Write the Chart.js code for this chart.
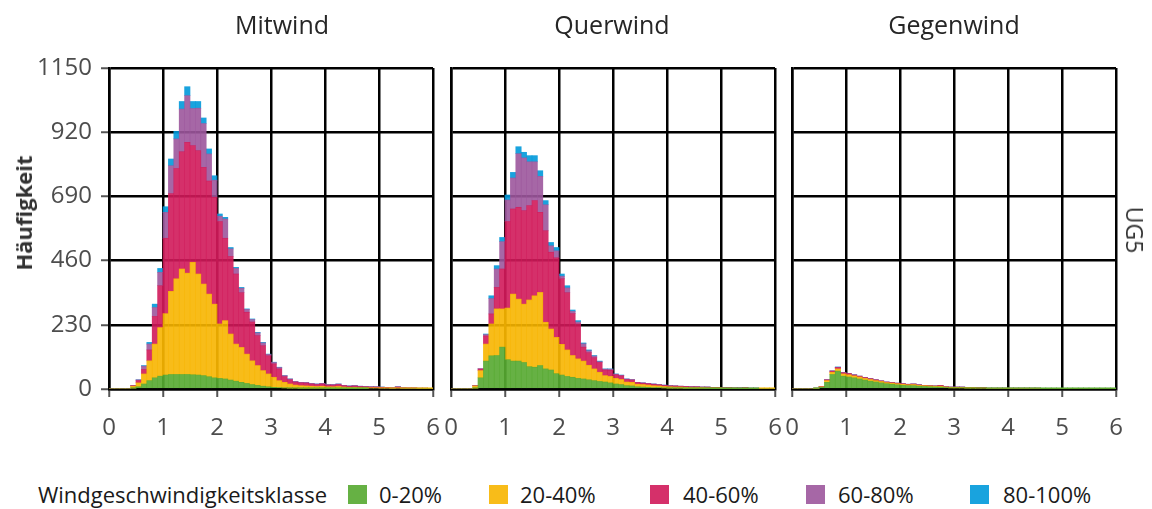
<!DOCTYPE html>
<html>
<head>
<meta charset="utf-8">
<script src="https://cdn.jsdelivr.net/npm/chart.js@4.4.1/dist/chart.umd.min.js"></script>
<style>
  body { margin: 0; background: #fff; }
  #wrap { position: relative; width: 1152px; height: 509px; overflow: hidden; background: #fff;
          font-family: "Open Sans", sans-serif; color: #333; }
  #wrap canvas { position: absolute; }
  .strip { position: absolute; top: 8px; line-height: 32px; font-size: 25px; color: #262626;
           transform: translateX(-50%); white-space: nowrap; }
  .ylab { position: absolute; left: 23px; top: 213px; font-size: 22px; font-weight: bold; color: #333;
          transform: translate(-50%, -50%) rotate(-90deg); white-space: nowrap; }
  .facet { position: absolute; left: 1135px; top: 230px; font-size: 23px; color: #333;
           transform: translate(-50%, -50%) rotate(90deg); white-space: nowrap; }
  .leg { position: absolute; top: 479px; line-height: 30px; font-size: 22px; color: #1a1a1a; white-space: nowrap; }
  .sq { position: absolute; top: 485px; width: 19px; height: 19px; }
</style>
</head>
<body>
<div id="wrap">
  <canvas id="p0" width="432" height="405" style="left:29px;top:40px"></canvas>
  <canvas id="p1" width="380" height="405" style="left:423px;top:40px"></canvas>
  <canvas id="p2" width="380" height="405" style="left:764px;top:40px"></canvas>
  <div id="titulos"></div>
  <div class="ylab">Häufigkeit</div>
  <div class="facet">UG5</div>
  <div id="leyenda"></div>
</div>
<script>
/* =======================================================
     DATOS
======================================================= */
const binMid = [0.05,0.15,0.25,0.35,0.45,0.55,0.65,0.75,0.85,0.95,
                1.05,1.15,1.25,1.35,1.45,1.55,1.65,1.75,1.85,1.95,
                2.05,2.15,2.25,2.35,2.45,2.55,2.65,2.75,2.85,2.95,
                3.05,3.15,3.25,3.35,3.45,3.55,3.65,3.75,3.85,3.95,
                4.05,4.15,4.25,4.35,4.45,4.55,4.65,4.75,4.85,4.95,
                5.05,5.15,5.25,5.35,5.45,5.55,5.65,5.75,5.85,5.95];
const xTicks = [0, 1, 2, 3, 4, 5, 6];
const yTicks = [0, 230, 460, 690, 920, 1150];
const paneles = ['Mitwind', 'Querwind', 'Gegenwind'];
const klassen = ['0-20%', '20-40%', '40-60%', '60-80%', '80-100%'];
const farben = ['rgba(85,169,48,0.9)', 'rgba(247,181,0,0.9)', 'rgba(208,25,90,0.9)',
                'rgba(156,86,156,0.9)', 'rgba(0,153,218,0.9)'];

// Mitwind
const mitG = [0,0,0,0,3,8,18,30,40,46, 50,52,52,52,52,51,50,48,44,40, 38,36,32,28,24,20,16,13,10,8,
              6,5,4,3,3,2,2,2,2,2, 1,1,1,1,1,1,1,1,0,0, 0,0,0,0,0,0,0,0,0,0];
const mitY = [0,0,0,0,7,14,36,71,121,174, 220,298,343,378,363,403,362,328,296,264, 195,209,165,133,125,105,85,71,56,46,
              36,25,20,15,11,10,9,8,7,8, 7,7,8,6,5,5,4,4,4,4, 3,3,2,3,2,2,2,1,1,1];
const mitR = [0,0,0,0,2,8,16,39,99,150, 270,350,395,420,469,418,442,418,405,383, 367,295,278,251,196,150,139,107,89,65,
              48,42,20,15,11,10,10,8,7,8, 6,6,7,5,4,5,4,3,3,3, 3,2,2,4,2,2,2,2,2,1];
const mitP = [0,0,0,0,0,3,12,21,32,48, 93,100,106,153,167,133,152,157,97,61, 19,69,27,20,16,10,9,10,10,5,
              5,5,4,3,2,2,3,2,2,2, 2,2,2,1,1,1,1,1,1,1, 1,1,1,1,1,0,0,0,0,0];
const mitB = [0,0,0,0,0,0,2,6,12,14, 20,24,27,27,32,25,24,20,18,16, 8,6,5,4,3,2,2,2,2,1,
              1,1,0,0,0,0,0,0,0,0, 0,0,0,0,0,0,0,0,0,0, 0,0,0,0,0,0,0,0,0,0];

// Querwind
const queG = [0,0,0,0,3,40,100,119,120,150, 105,100,100,95,80,78,84,72,68,55, 50,45,42,38,36,33,30,27,25,22,
              18,16,12,11,8,7,6,5,5,4, 3,3,3,2,2,2,2,1,1,1, 1,1,1,1,1,1,1,0,0,0];
const queY = [0,0,0,0,8,26,61,114,167,137, 185,240,222,209,239,256,262,167,147,130, 110,95,78,70,64,52,42,33,23,23,
              20,18,13,13,9,9,8,7,6,5, 5,4,4,4,3,3,3,3,3,3, 2,2,2,1,2,1,1,1,1,1];
const queR = [0,0,0,0,1,6,29,36,77,143, 310,305,329,335,338,341,287,328,275,285, 235,205,150,125,50,45,40,35,20,22,
              13,13,9,8,6,5,5,5,4,4, 3,4,3,3,3,3,2,3,2,2, 2,2,1,2,2,1,1,1,1,1];
const queP = [0,0,0,0,0,0,5,55,66,98, 77,111,192,189,157,139,129,93,23,25, 9,17,8,7,12,7,6,3,3,4,
              2,2,2,2,1,1,1,1,1,1, 1,0,0,0,0,0,0,0,0,0, 0,0,0,0,0,0,0,0,0,0];
const queB = [0,0,0,0,0,0,2,10,12,15, 18,20,25,20,22,22,20,15,12,12, 8,8,5,5,3,3,2,2,1,1,
              1,1,0,0,0,0,0,0,0,0, 0,0,0,0,0,0,0,0,0,0, 0,0,0,0,0,0,0,0,0,0];

// Gegenwind
const gegG = [0,0,0,0,2,6,24,52,64,46, 43,40,36,32,28,25,22,19,17,15, 13,12,12,10,9,8,7,7,5,4,
              4,4,3,3,3,3,2,2,2,2, 2,2,2,2,2,2,1,1,1,1, 1,1,1,1,1,1,1,1,1,1];
const gegY = [0,0,0,0,1,2,6,8,8,8, 8,7,7,6,6,5,5,4,4,4, 4,3,4,3,3,3,3,3,2,2,
              2,2,2,2,1,1,1,1,1,1, 1,1,1,1,1,1,1,1,1,1, 1,1,1,0,0,0,0,0,0,0];
const gegR = [0,0,0,0,0,1,3,4,5,4, 4,3,3,3,3,3,2,2,2,2, 2,2,2,2,1,1,1,3,1,1,
              1,1,1,1,1,1,0,0,0,0, 0,0,0,0,0,0,0,0,0,0, 0,0,0,0,0,0,0,0,0,0];
const gegP = [0,0,0,0,0,0,0,1,1,1, 1,1,0,0,0,0,0,0,0,0, 0,0,0,0,0,0,0,0,0,0,
              0,0,0,0,0,0,0,0,0,0, 0,0,0,0,0,0,0,0,0,0, 0,0,0,0,0,0,0,0,0,0];
const gegB = [0,0,0,0,0,0,0,0,1,0, 0,0,0,0,0,0,0,0,0,0, 0,0,0,0,0,0,0,0,0,0,
              0,0,0,0,0,0,0,0,0,0, 0,0,0,0,0,0,0,0,0,0, 0,0,0,0,0,0,0,0,0,0];

/* =======================================================
     TEXTOS (títulos y leyenda)
======================================================= */
const tituloX = [282, 612, 954];
document.getElementById('titulos').innerHTML = paneles
  .map((t, i) => `<div class="strip" style="left:${tituloX[i]}px">${t}</div>`).join('');

const sqX = [348, 489, 650, 806, 970];
const txtX = [379, 520, 683, 838, 1003];
document.getElementById('leyenda').innerHTML =
  `<div class="leg" style="left:38px">Windgeschwindigkeitsklasse</div>` +
  klassen.map((k, i) => `
    <div class="sq" style="left:${sqX[i]}px;background:${farben[i]}"></div>
    <div class="leg" style="left:${txtX[i]}px">${k}</div>`).join('');

/* =======================================================
     PANELES
======================================================= */
const fuente = { family: 'Open Sans', size: 24 };
const PAD = 28;

function crearPanel(id, series, conEjeY) {
  new Chart(document.getElementById(id), {
    type: 'bar',
    data: {
      labels: binMid,
      datasets: series.map((d, i) => ({
        label: klassen[i],
        data: d,
        backgroundColor: farben[i],
        borderWidth: 0,
        barPercentage: 1,
        categoryPercentage: 1
      }))
    },
    options: {
      responsive: false,
      animation: false,
      layout: { padding: { top: PAD, right: PAD, bottom: 0, left: conEjeY ? 0 : PAD } },
      plugins: { legend: { display: false }, tooltip: { enabled: false } },
      scales: {
        x: {
          type: 'linear', stacked: true, min: 0, max: 6, offset: false,
          afterBuildTicks: s => { s.ticks = xTicks.map(v => ({ value: v })); },
          afterFit: s => { s.height = 56; },
          grid: { color: '#000', lineWidth: 2.5, offset: false, tickLength: 8, tickColor: '#555', tickWidth: 2 },
          border: { color: '#000', width: 2.5 },
          ticks: { color: '#4d4d4d', font: fuente, padding: 17, maxRotation: 0, autoSkip: false,
                   callback: v => String(v) }
        },
        y: {
          stacked: true, min: 0, max: 1150,
          afterBuildTicks: s => { s.ticks = yTicks.map(v => ({ value: v })); },
          afterFit: s => { s.width = conEjeY ? 80 : 0; },
          grid: { color: '#000', lineWidth: 2.5, drawTicks: conEjeY, tickLength: 8, tickColor: '#555', tickWidth: 2 },
          border: { color: '#000', width: 2.5 },
          ticks: { display: conEjeY, color: '#4d4d4d', font: fuente, padding: 9,
                   callback: v => String(v) }
        }
      }
    }
  });
}

crearPanel('p0', [mitG, mitY, mitR, mitP, mitB], true);
crearPanel('p1', [queG, queY, queR, queP, queB], false);
crearPanel('p2', [gegG, gegY, gegR, gegP, gegB], false);
</script>
</body>
</html>
